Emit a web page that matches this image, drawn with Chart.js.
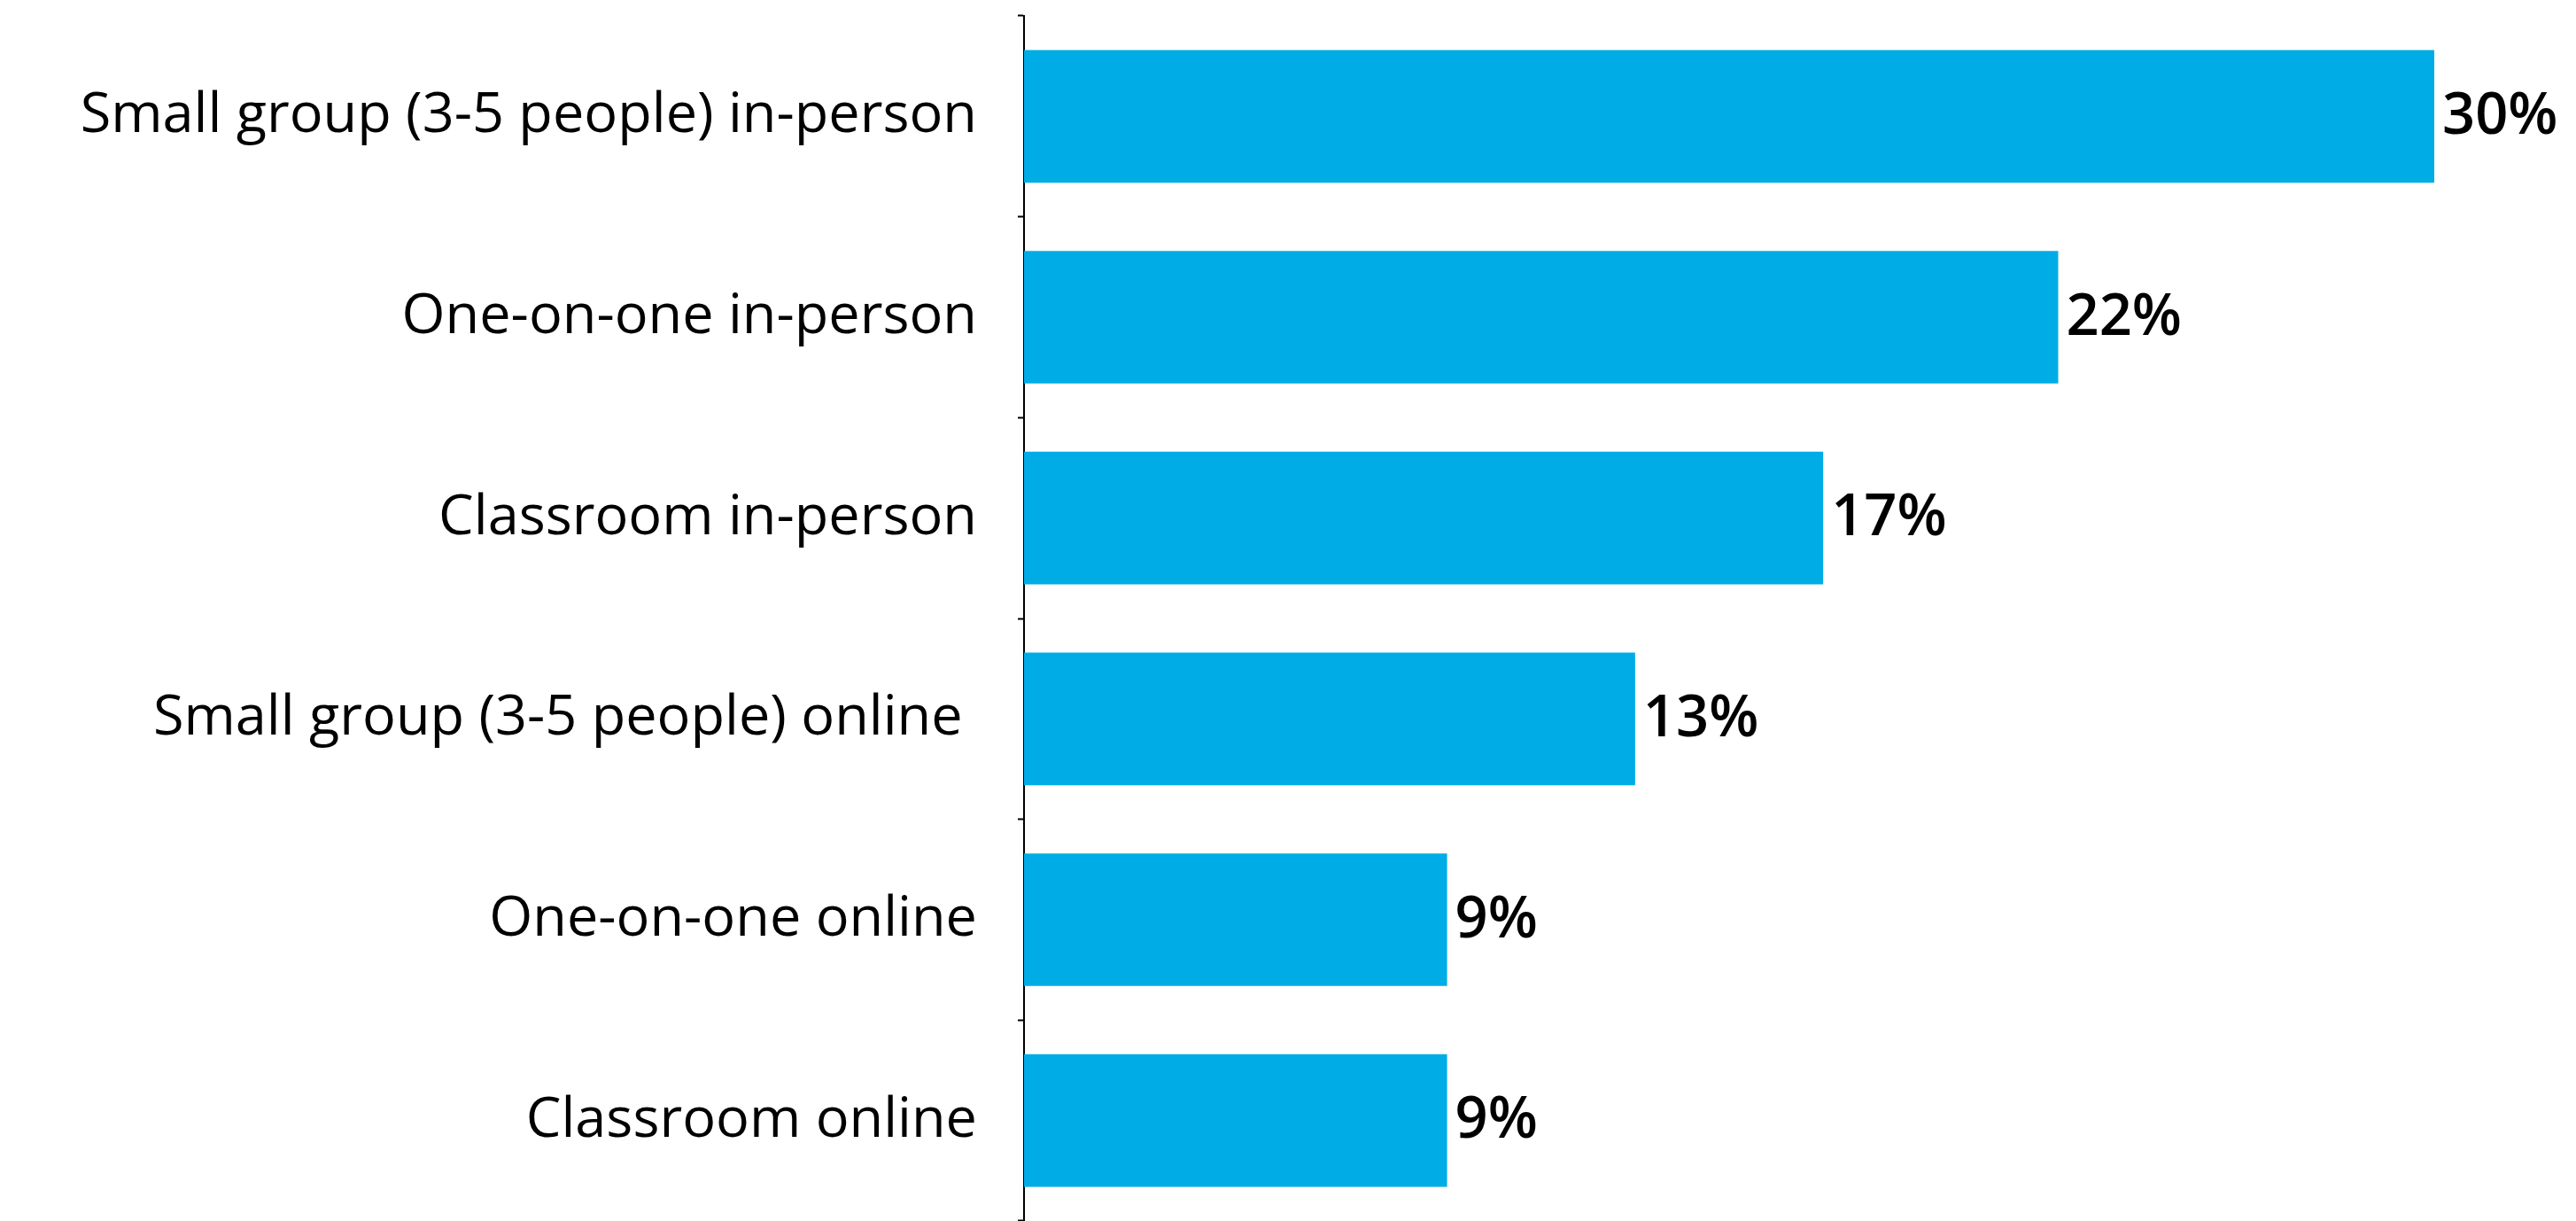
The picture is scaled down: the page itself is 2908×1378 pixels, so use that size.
<!DOCTYPE html>
<html>
<head>
<meta charset="utf-8">
<title>Preferred tutoring format</title>
<script src="https://cdn.jsdelivr.net/npm/chart.js@4.4.1/dist/chart.umd.min.js"></script>
<style>
    html, body { margin: 0; padding: 0; background: #ffffff; }
    canvas { display: block; }
</style>
</head>
<body>
<canvas id="grafico" width="2908" height="1378"></canvas>
<script>
// Categorías y porcentajes
const categorias = [
    "Small group (3-5 people) in-person",
    "One-on-one in-person",
    "Classroom in-person",
    "Small group (3-5 people) online ",
    "One-on-one online",
    "Classroom online"
];
const porcentajes = [30, 22, 17, 13, 9, 9];

const colorBarra = "#00ACE6";

// Plugin sencillo para escribir el valor al final de cada barra
const etiquetasValor = {
    id: "etiquetasValor",
    afterDatasetsDraw(chart) {
        const ctx = chart.ctx;
        const meta = chart.getDatasetMeta(0);
        ctx.save();
        ctx.font = "600 65px 'Open Sans'";
        ctx.fillStyle = "#000000";
        ctx.textAlign = "left";
        ctx.textBaseline = "middle";
        meta.data.forEach((bar, i) => {
            ctx.fillText(porcentajes[i] + "%", bar.x + 9, bar.y + 1);
        });
        ctx.restore();
    }
};

const ctx = document.getElementById("grafico").getContext("2d");
new Chart(ctx, {
    type: "bar",
    data: {
        labels: categorias,
        datasets: [{
            data: porcentajes,
            backgroundColor: colorBarra,
            borderWidth: 0,
            categoryPercentage: 1,
            barPercentage: 0.66
        }]
    },
    options: {
        indexAxis: "y",
        responsive: false,
        animation: false,
        devicePixelRatio: 1,
        layout: {
            padding: { top: 18, right: 160, bottom: 0, left: 0 }
        },
        plugins: {
            legend: { display: false },
            tooltip: { enabled: false }
        },
        scales: {
            x: {
                display: false,
                min: 0,
                max: 30
            },
            y: {
                afterFit(scale) {
                    // eje fijo en x = 1156 y sin relleno extra arriba/abajo
                    scale.width = 1156;
                    scale.paddingTop = 0;
                    scale.paddingBottom = 0;
                },
                border: { display: true, color: "#000000", width: 2 },
                grid: {
                    display: true,
                    drawOnChartArea: false,
                    drawTicks: true,
                    tickLength: 7,
                    tickWidth: 2,
                    color: "#000000",
                    offset: true
                },
                ticks: {
                    color: "#000000",
                    padding: 46,
                    font: { family: "Open Sans", size: 63, weight: "normal" }
                }
            }
        }
    },
    plugins: [etiquetasValor]
});
</script>
</body>
</html>
